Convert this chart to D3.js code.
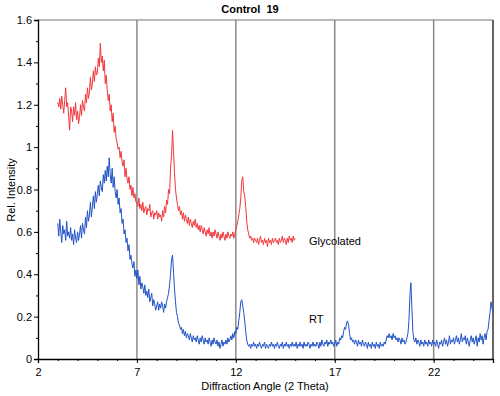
<!DOCTYPE html>
<html>
<head>
<meta charset="utf-8">
<script src="https://cdn.jsdelivr.net/npm/d3@7"></script>
<style>
  body { margin: 0; background: #fff; }
  svg { font-family: "Liberation Sans", Arial, sans-serif; }
</style>
</head>
<body>
<svg id="grafico" width="500" height="396"></svg>
<script>
// Dados (passo de 0.05 graus)
const passo = 0.05;
const inicioGlicolado = 3.0;
const glicolado = [
  1.21,1.19,1.23,1.18,1.24,1.20,1.16,1.22,1.28,1.19,1.21,1.14,1.08,1.19,1.17,1.12,1.19,1.15,1.21,1.13,
  1.17,1.11,1.14,1.20,1.15,1.22,1.19,1.17,1.25,1.21,1.28,1.23,1.26,1.33,1.27,1.30,1.36,1.31,1.38,1.34,
  1.35,1.42,1.38,1.49,1.40,1.43,1.36,1.41,1.30,1.34,1.27,1.22,1.25,1.17,1.20,1.12,1.16,1.07,1.10,1.04,
  1.02,0.99,1.00,0.95,0.98,0.93,0.91,0.94,0.86,0.90,0.85,0.83,0.86,0.80,0.82,0.77,0.81,0.76,0.78,0.74,
  0.74,0.72,0.76,0.71,0.73,0.70,0.74,0.69,0.71,0.72,0.68,0.71,0.70,0.73,0.67,0.69,0.70,0.66,0.69,0.68,
  0.70,0.66,0.69,0.67,0.68,0.65,0.70,0.67,0.72,0.69,0.75,0.73,0.80,0.78,0.90,0.96,1.08,0.98,0.88,0.80,
  0.76,0.73,0.70,0.72,0.68,0.70,0.66,0.69,0.65,0.68,0.66,0.64,0.67,0.63,0.66,0.64,0.62,0.65,0.63,0.66,
  0.62,0.64,0.61,0.63,0.60,0.63,0.61,0.59,0.62,0.60,0.58,0.61,0.59,0.62,0.58,0.60,0.57,0.60,0.58,0.61,
  0.59,0.57,0.60,0.58,0.56,0.59,0.57,0.60,0.58,0.56,0.59,0.57,0.60,0.58,0.57,0.59,0.58,0.60,0.57,0.59,
  0.61,0.63,0.65,0.68,0.71,0.76,0.84,0.86,0.79,0.77,0.72,0.65,0.61,0.59,0.57,0.58,0.56,0.57,0.55,0.57,
  0.56,0.55,0.57,0.54,0.56,0.58,0.55,0.56,0.54,0.57,0.55,0.56,0.53,0.57,0.55,0.56,0.54,0.57,0.55,0.56,
  0.57,0.55,0.56,0.54,0.57,0.55,0.56,0.58,0.55,0.57,0.56,0.54,0.57,0.55,0.58,0.56,0.57,0.55,0.58,0.56,
  0.57
];

const inicioRT = 3.0;
const rt = [
  0.64,0.58,0.66,0.60,0.55,0.63,0.59,0.61,0.56,0.65,0.58,0.60,0.57,0.62,0.56,0.59,0.54,0.61,0.57,0.55,
  0.60,0.56,0.59,0.63,0.57,0.64,0.61,0.59,0.67,0.62,0.70,0.65,0.68,0.74,0.67,0.72,0.77,0.71,0.79,0.74,
  0.78,0.82,0.77,0.84,0.81,0.79,0.87,0.83,0.89,0.84,0.91,0.86,0.95,0.87,0.83,0.90,0.81,0.86,0.79,0.76,
  0.80,0.73,0.76,0.69,0.71,0.64,0.66,0.59,0.61,0.55,0.57,0.51,0.54,0.47,0.49,0.45,0.43,0.46,0.39,0.42,
  0.38,0.42,0.35,0.39,0.33,0.36,0.34,0.31,0.35,0.30,0.32,0.29,0.33,0.27,0.29,0.31,0.25,0.28,0.26,0.23,
  0.25,0.27,0.23,0.26,0.24,0.27,0.25,0.22,0.26,0.24,0.27,0.29,0.31,0.35,0.40,0.47,0.49,0.41,0.33,0.27,
  0.22,0.20,0.17,0.16,0.14,0.15,0.12,0.14,0.11,0.13,0.10,0.12,0.11,0.09,0.12,0.10,0.08,0.11,0.09,0.10,
  0.08,0.11,0.09,0.07,0.10,0.08,0.11,0.09,0.07,0.10,0.08,0.09,0.07,0.10,0.08,0.06,0.09,0.07,0.10,0.08,
  0.07,0.09,0.06,0.08,0.05,0.07,0.09,0.06,0.08,0.07,0.09,0.07,0.10,0.08,0.09,0.11,0.09,0.12,0.10,0.13,
  0.12,0.15,0.14,0.18,0.22,0.27,0.28,0.25,0.22,0.18,0.13,0.09,0.07,0.06,0.07,0.05,0.07,0.06,0.08,0.06,
  0.07,0.05,0.07,0.06,0.08,0.06,0.05,0.07,0.06,0.08,0.05,0.07,0.06,0.05,0.07,0.06,0.08,0.06,0.07,0.05,
  0.07,0.06,0.08,0.06,0.05,0.07,0.06,0.08,0.05,0.07,0.06,0.08,0.06,0.07,0.05,0.07,0.06,0.08,0.06,0.07,
  0.06,0.08,0.05,0.07,0.06,0.08,0.06,0.07,0.05,0.08,0.06,0.07,0.06,0.08,0.07,0.05,0.07,0.06,0.08,0.06,
  0.07,0.06,0.08,0.07,0.05,0.08,0.06,0.09,0.07,0.06,0.08,0.07,0.09,0.06,0.08,0.07,0.09,0.07,0.08,0.06,
  0.07,0.09,0.06,0.08,0.07,0.10,0.09,0.11,0.10,0.13,0.15,0.14,0.17,0.18,0.16,0.12,0.09,0.10,0.08,0.09,
  0.07,0.09,0.08,0.06,0.09,0.07,0.08,0.06,0.09,0.07,0.06,0.08,0.07,0.05,0.08,0.06,0.07,0.05,0.08,0.06,
  0.07,0.05,0.08,0.06,0.07,0.05,0.08,0.06,0.07,0.06,0.08,0.07,0.09,0.11,0.10,0.12,0.10,0.11,0.09,0.12,
  0.10,0.11,0.09,0.10,0.08,0.10,0.09,0.07,0.10,0.08,0.09,0.07,0.08,0.10,0.12,0.18,0.30,0.36,0.24,0.13,
  0.09,0.08,0.10,0.07,0.09,0.08,0.06,0.09,0.07,0.08,0.06,0.09,0.07,0.08,0.06,0.09,0.07,0.08,0.06,0.09,
  0.07,0.08,0.06,0.09,0.07,0.05,0.08,0.07,0.09,0.06,0.08,0.10,0.07,0.09,0.06,0.08,0.11,0.07,0.09,0.08,
  0.10,0.07,0.09,0.11,0.08,0.10,0.07,0.09,0.12,0.08,0.10,0.09,0.11,0.07,0.10,0.08,0.06,0.09,0.11,0.08,
  0.10,0.07,0.09,0.11,0.06,0.10,0.08,0.12,0.09,0.11,0.07,0.10,0.12,0.09,0.13,0.14,0.18,0.22,0.27,0.24,
  0.22
];

const ticksX = [2, 7, 12, 17, 22];
const linhasGrade = [7, 12, 17, 22];
const ticksY = [0, 0.2, 0.4, 0.6, 0.8, 1, 1.2, 1.4, 1.6];
const rotulosSerie = [
  { nome: "Glycolated", x: 15.7, y: 0.54 },
  { nome: "RT", x: 15.7, y: 0.17 }
];

const svg = d3.select("#grafico");
const margem = { esquerda: 38, direita: 493, topo: 20, base: 359 };

const x = d3.scaleLinear().domain([2, 25]).range([margem.esquerda, margem.direita]);
const y = d3.scaleLinear().domain([0, 1.6]).range([margem.base, margem.topo]);

// Linhas verticais de grade
svg.selectAll("line.grade")
  .data(linhasGrade)
  .enter()
  .append("line")
  .attr("x1", d => x(d)).attr("x2", d => x(d))
  .attr("y1", margem.topo).attr("y2", margem.base)
  .attr("stroke", "#8a8a8a")
  .attr("stroke-width", 1.5);

// Borda superior e direita
svg.append("line")
  .attr("x1", margem.esquerda).attr("x2", margem.direita)
  .attr("y1", margem.topo).attr("y2", margem.topo)
  .attr("stroke", "#777").attr("stroke-width", 1.2);
svg.append("line")
  .attr("x1", margem.direita).attr("x2", margem.direita)
  .attr("y1", margem.topo).attr("y2", margem.base)
  .attr("stroke", "#333").attr("stroke-width", 1.5);

// Séries
const linha = (inicio) => d3.line()
  .x((d, i) => x(inicio + i * passo))
  .y(d => y(d));

svg.append("path")
  .datum(glicolado)
  .attr("d", linha(inicioGlicolado))
  .attr("fill", "none")
  .attr("stroke", "#f2373c")
  .attr("stroke-width", 1);

svg.append("path")
  .datum(rt)
  .attr("d", linha(inicioRT))
  .attr("fill", "none")
  .attr("stroke", "#2152c8")
  .attr("stroke-width", 1);

// Eixo X
const eixoX = svg.append("g")
  .attr("transform", `translate(0,${margem.base})`)
  .call(d3.axisBottom(x).tickValues(ticksX).tickSize(4).tickFormat(d3.format("d")));
svg.append("g")
  .attr("transform", `translate(0,${margem.base})`)
  .call(d3.axisBottom(x).tickValues(d3.range(3, 25)).tickSize(2).tickFormat(""))
  .call(g => g.select(".domain").remove());

// Eixo Y
const eixoY = svg.append("g")
  .attr("transform", `translate(${margem.esquerda},0)`)
  .call(d3.axisLeft(y).tickValues(ticksY).tickSize(4).tickFormat(d3.format("")));
svg.append("g")
  .attr("transform", `translate(${margem.esquerda},0)`)
  .call(d3.axisLeft(y).tickValues(d3.range(0.1, 1.6, 0.2)).tickSize(2).tickFormat(""))
  .call(g => g.select(".domain").remove());

svg.selectAll(".domain").attr("stroke", "#000").attr("stroke-width", 1.3);
svg.selectAll(".tick line").attr("stroke", "#000");
svg.selectAll(".tick text")
  .attr("font-size", 11)
  .attr("font-family", "Liberation Sans, Arial, sans-serif")
  .attr("fill", "#000");
eixoX.selectAll(".tick text").attr("dy", "0.95em");
eixoY.selectAll(".tick text").attr("x", -6);

// Título e rótulos
svg.append("text")
  .attr("x", 250).attr("y", 13)
  .attr("text-anchor", "middle")
  .attr("font-size", 11).attr("font-weight", "bold")
  .style("white-space", "pre")
  .text("Control  19");

svg.append("text")
  .attr("x", 265).attr("y", 390)
  .attr("text-anchor", "middle")
  .attr("font-size", 11)
  .text("Diffraction Angle (2 Theta)");

svg.append("text")
  .attr("transform", "translate(15,190) rotate(-90)")
  .attr("text-anchor", "middle")
  .attr("font-size", 11)
  .text("Rel. Intensity");

svg.selectAll("text.serie")
  .data(rotulosSerie)
  .enter()
  .append("text")
  .attr("class", "serie")
  .attr("x", d => x(d.x))
  .attr("y", d => y(d.y))
  .attr("font-size", 11)
  .text(d => d.nome);
</script>
</body>
</html>
